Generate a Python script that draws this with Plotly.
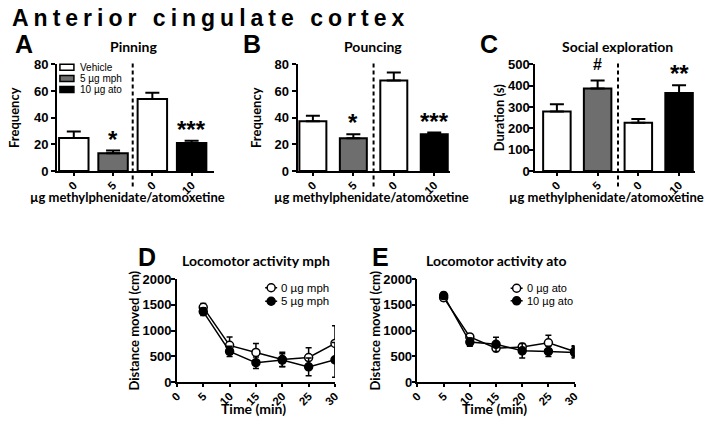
import plotly.graph_objects as go

W, H = 720, 426

# ---------------- data ----------------
bar_ticks = ["0", "5", "0", "10"]
group_names = ["Vehicle", "5 µg mph", "10 µg ato"]
group_of_bar = [0, 1, 0, 2]

pin_vals = [24.7, 13.3, 54.0, 21.0]
pin_err = [4.9, 2.0, 4.7, 1.8]
pou_vals = [37.4, 24.6, 68.0, 27.5]
pou_err = [4.0, 2.9, 6.0, 1.4]
soc_vals = [279, 387, 226, 366]
soc_err = [34, 38, 18, 36]

sig_pin = ["", "*", "", "***"]
sig_pou = ["", "*", "", "***"]
sig_soc = ["", "#", "", "**"]

time_min = [5, 10, 15, 20, 25, 30]
mph0 = [1452, 716, 579, 440, 480, 754]
mph0_err = [75, 160, 175, 140, 190, 340]
mph5 = [1370, 598, 380, 430, 299, 436]
mph5_err = [75, 100, 112, 125, 170, 336]
ato0 = [1640, 880, 660, 685, 766, 598]
ato0_err = [60, 50, 60, 60, 145, 110]
ato10 = [1680, 780, 735, 610, 598, 579]
ato10_err = [60, 80, 140, 140, 100, 110]

# ---------------- helpers ----------------
def fx(px):
    return px / W


def fy(py):
    return 1 - py / H


BAR_COLORS = ["white", "#6e6e6e", "black"]
TICK_FONT = dict(family="Liberation Sans", size=13, color="black", weight="bold")
XTICK_FONT = dict(family="Liberation Sans", size=11.5, color="black", weight="bold")
TITLE_FONT = dict(family="Lato", size=14, color="black", weight="bold")
YTITLE_FONT = dict(family="Lato", size=13, color="black", weight="bold")
LETTER_FONT = dict(family="Liberation Sans", size=25, color="black", weight="bold")

fig = go.Figure()
annotations = []
shapes = []

bar_panels = [
    dict(ax="", vals=pin_vals, err=pin_err, sig=sig_pin, x0=50, x1=210, rng=[-0.425, 3.575],
         width=0.75, ymax=80, dtick=20, ytitle="Frequency", standoff=11, ylab=0,
         title="Pinning", letter="A", letter_x=16, title_x=128, xtitle_x=122),
    dict(ax="2", vals=pou_vals, err=pou_err, sig=sig_pou, x0=295, x1=450, rng=[-0.376, 3.386],
         width=0.667, ymax=80, dtick=20, ytitle="Frequency", standoff=10, ylab=0,
         title="Pouncing", letter="B", letter_x=248, title_x=372, xtitle_x=370),
    dict(ax="3", vals=soc_vals, err=soc_err, sig=sig_soc, x0=537, x1=700, rng=[-0.53, 3.4],
         width=0.675, ymax=500, dtick=100, ytitle="Duration (s)", standoff=0, ylab=-3,
         title="Social exploration", letter="C", letter_x=490, title_x=621, xtitle_x=610),
]

BAR_TOP, BAR_BOTTOM = 59.5, 170

layout_axes = {}
for p in bar_panels:
    ax = p["ax"]
    xref = "x" + ax
    yref = "y" + ax
    for g in range(3):
        idx = [i for i, gg in enumerate(group_of_bar) if gg == g]
        fig.add_trace(go.Bar(
            x=idx,
            y=[p["vals"][i] for i in idx],
            width=p["width"],
            marker=dict(color=BAR_COLORS[g], line=dict(color="black", width=2)),
            error_y=dict(type="data", symmetric=False,
                         array=[p["err"][i] for i in idx],
                         arrayminus=[0] * len(idx),
                         color="black", thickness=2, width=7),
            name=group_names[g], showlegend=False,
            xaxis=xref, yaxis=yref,
        ))
    layout_axes["xaxis" + ax] = dict(
        domain=[fx(p["x0"]), fx(p["x1"])], range=p["rng"], anchor=yref,
        tickmode="array", tickvals=list(range(len(bar_ticks))), ticktext=bar_ticks,
        tickangle=-45, tickfont=XTICK_FONT, ticks="outside", ticklen=3, tickwidth=1.5,
        tickcolor="black", ticklabelstandoff=-2,
        showline=True, linecolor="black",
        linewidth=2, showgrid=False, zeroline=False, fixedrange=True,
    )
    layout_axes["yaxis" + ax] = dict(
        domain=[fy(BAR_BOTTOM), fy(BAR_TOP)], range=[0, p["ymax"]], dtick=p["dtick"],
        anchor=xref, tickfont=TICK_FONT, ticks="outside", ticklen=4, tickwidth=2,
        ticklabelstandoff=p["ylab"],
        tickcolor="black", showline=True, linecolor="black", linewidth=2,
        showgrid=False, zeroline=False, fixedrange=True,
        title=dict(text=p["ytitle"], font=YTITLE_FONT, standoff=p["standoff"]),
    )
    shapes.append(dict(type="line", xref=xref, yref="paper", x0=1.5, x1=1.5,
                       y0=fy(186), y1=fy(56),
                       line=dict(color="black", width=2, dash="4px,3px")))
    for i, s in enumerate(p["sig"]):
        if s:
            big = s != "#"
            annotations.append(dict(
                x=i, y=p["vals"][i] + p["err"][i], xref=xref, yref=yref,
                text=s, showarrow=False, yanchor="bottom",
                yshift=-4 if big else 5,
                font=dict(family="Liberation Sans", size=24 if big else 16,
                          color="black", weight="bold"),
            ))
    annotations.append(dict(x=fx(p["title_x"]), y=fy(41), xref="paper", yref="paper",
                            text=p["title"], showarrow=False, font=TITLE_FONT,
                            xanchor="center", yanchor="middle"))
    annotations.append(dict(x=fx(p["letter_x"]), y=fy(38), xref="paper", yref="paper",
                            text=p["letter"], showarrow=False, font=LETTER_FONT,
                            xanchor="center", yanchor="middle"))
    annotations.append(dict(x=fx(p["xtitle_x"]), y=fy(197), xref="paper", yref="paper",
                            text="µg methylphenidate/atomoxetine", showarrow=False,
                            font=dict(TITLE_FONT, size=13), xanchor="center",
                            yanchor="middle"))

# legend of panel A (drawn compactly)
leg_rows = [62.5, 74.0, 85.5]
for g, ry in enumerate(leg_rows):
    shapes.append(dict(type="rect", xref="paper", yref="paper", xsizemode="pixel",
                       ysizemode="pixel", xanchor=fx(60), yanchor=fy(ry),
                       x0=-7, x1=7, y0=-3, y1=3, fillcolor=BAR_COLORS[g],
                       line=dict(color="black", width=1.5)))
    annotations.append(dict(x=fx(71), y=fy(ry), xref="paper", yref="paper",
                            text=group_names[g], showarrow=False, xanchor="left",
                            yanchor="middle",
                            font=dict(family="Liberation Sans", size=10, color="black")))

# ---------------- locomotor panels ----------------
LINE_TOP, LINE_BOTTOM = 282, 389
line_panels = [
    dict(ax="4", x0=172, x1=333, series=[("0 µg mph", mph0, mph0_err, "white"),
                                         ("5 µg mph", mph5, mph5_err, "black")],
         title="Locomotor activity mph", title_x=253, letter="D", letter_x=142,
         standoff=0, leg_x=268, leg_rows=[291, 305], leg_size=11.5),
    dict(ax="5", x0=417, x1=577, series=[("0 µg ato", ato0, ato0_err, "white"),
                                         ("10 µg ato", ato10, ato10_err, "black")],
         title="Locomotor activity ato", title_x=497, letter="E", letter_x=379,
         standoff=0, leg_x=518, leg_rows=[291.5, 304.5], leg_size=11),
]

for p in line_panels:
    ax = p["ax"]
    xref = "x" + ax
    yref = "y" + ax
    for name, vals, errs, fill in p["series"]:
        fig.add_trace(go.Scatter(
            x=time_min, y=vals, mode="lines+markers", name=name, showlegend=False,
            line=dict(color="black", width=1.5),
            marker=dict(symbol="circle", size=8, color=fill,
                        line=dict(color="black", width=1.5)),
            error_y=dict(type="data", array=errs, color="black", thickness=1.5, width=3),
            xaxis=xref, yaxis=yref,
        ))
    layout_axes["xaxis" + ax] = dict(
        domain=[fx(p["x0"]), fx(p["x1"])], range=[0, 30], dtick=5, anchor=yref,
        tickangle=-45, tickfont=XTICK_FONT, ticks="outside", ticklen=3, tickwidth=1.5,
        ticklabelstandoff=-2,
        tickcolor="black", showline=True, linecolor="black", linewidth=1.5,
        showgrid=False, zeroline=False, fixedrange=True,
    )
    layout_axes["yaxis" + ax] = dict(
        domain=[fy(LINE_BOTTOM), fy(LINE_TOP)], range=[0, 2000], dtick=500, anchor=xref,
        tickfont=TICK_FONT, ticks="outside", ticklen=4, tickwidth=1.5, tickcolor="black",
        ticklabelstandoff=-3,
        showline=True, linecolor="black", linewidth=1.5, showgrid=False,
        zeroline=False, fixedrange=True,
        title=dict(text="Distance moved (cm)", font=YTITLE_FONT, standoff=p["standoff"]),
    )
    annotations.append(dict(x=fx(p["title_x"]), y=fy(263), xref="paper", yref="paper",
                            text=p["title"], showarrow=False, font=TITLE_FONT,
                            xanchor="center", yanchor="middle"))
    annotations.append(dict(x=fx(p["letter_x"]), y=fy(259), xref="paper", yref="paper",
                            text=p["letter"], showarrow=False, font=LETTER_FONT,
                            xanchor="center", yanchor="middle"))
    annotations.append(dict(x=fx((p["x0"] + p["x1"]) / 2 - 2), y=0, xref="paper",
                            yref="paper", text="Time (min)", showarrow=False,
                            font=TITLE_FONT, xanchor="center", yanchor="bottom",
                            yshift=-1))
    for (name, vals, errs, fill), ry in zip(p["series"], p["leg_rows"]):
        shapes.append(dict(type="line", xref="paper", yref="paper", xsizemode="pixel",
                           ysizemode="pixel", xanchor=fx(p["leg_x"]), yanchor=fy(ry),
                           x0=-6, x1=6, y0=0, y1=0, line=dict(color="black", width=1.5)))
        shapes.append(dict(type="circle", xref="paper", yref="paper", xsizemode="pixel",
                           ysizemode="pixel", xanchor=fx(p["leg_x"]), yanchor=fy(ry),
                           x0=-4, x1=4, y0=-4, y1=4, fillcolor=fill,
                           line=dict(color="black", width=1.5)))
        annotations.append(dict(x=fx(p["leg_x"] + 8), y=fy(ry), xref="paper", yref="paper",
                                text=name, showarrow=False, xanchor="left",
                                yanchor="middle",
                                font=dict(family="Liberation Sans", size=p["leg_size"],
                                          color="black")))

# main title
annotations.append(dict(x=fx(2), y=fy(11), xref="paper", yref="paper",
                        text='<span style="letter-spacing:5px">Anterior cingulate cortex</span>',
                        showarrow=False, xanchor="left", yanchor="middle",
                        font=dict(family="Liberation Sans", size=23, color="black",
                                  weight="bold")))

fig.update_layout(
    width=W, height=H, margin=dict(l=0, r=0, t=0, b=0),
    paper_bgcolor="white", plot_bgcolor="white",
    barmode="overlay", showlegend=False,
    annotations=annotations, shapes=shapes,
    **layout_axes,
)

fig.write_html("out.html", config=dict(displayModeBar=False),
               post_script="document.body.style.margin='0';"
                           "document.body.style.overflow='hidden';")
